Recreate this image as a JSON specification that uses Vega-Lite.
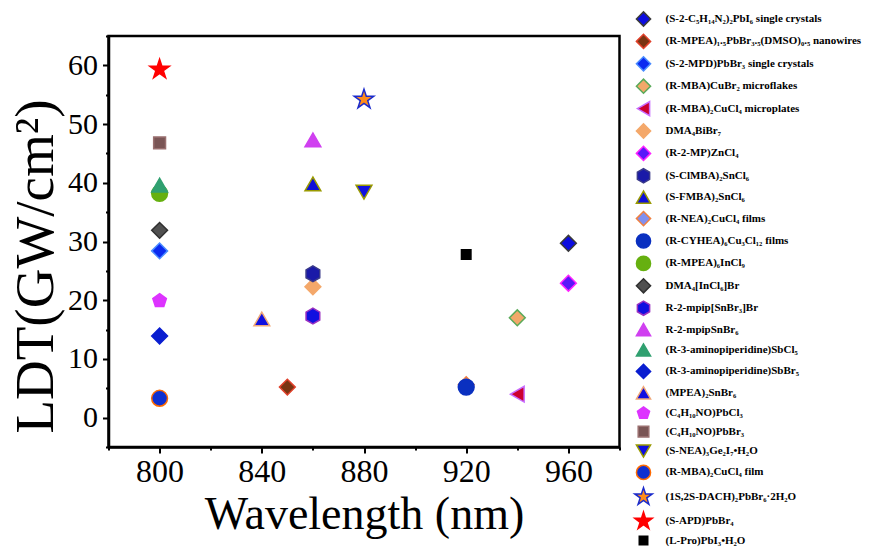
{
  "$schema": "https://vega.github.io/schema/vega-lite/v6.json",
  "width": 511,
  "height": 411,
  "autosize": {"type": "none"},
  "padding": {"left": 108.5, "top": 36, "right": 252.5, "bottom": 109},
  "background": "white",
  "config": {
    "view": {"stroke": "black", "strokeWidth": 2.5},
    "font": "Liberation Serif",
    "axis": {
      "domainColor": "black", "domainWidth": 2.5, "tickColor": "black", "tickWidth": 2,
      "grid": false, "labelFont": "Liberation Serif", "titleFont": "Liberation Serif",
      "labelColor": "black", "titleColor": "black", "titleFontWeight": "normal"
    },
    "legend": {"labelFont": "Liberation Serif", "labelFontWeight": "bold", "labelFontSize": 11, "labelColor": "black"}
  },
  "data": {
    "values": [
      {"label": "(S-2-C₅H₁₄N₂)₂PbI₆ single crystals", "wavelength": 960, "ldt": 29.7},
      {"label": "(R-MPEA)₁.₅PbBr₃.₅(DMSO)₀.₅ nanowires", "wavelength": 850, "ldt": 5.2},
      {"label": "(S-2-MPD)PbBr₃ single crystals", "wavelength": 800, "ldt": 28.4},
      {"label": "(R-MBA)CuBr₂ microflakes", "wavelength": 940, "ldt": 17.0},
      {"label": "(R-MBA)₂CuCl₄ microplates", "wavelength": 940, "ldt": 4.0},
      {"label": "DMA₄BiBr₇", "wavelength": 860, "ldt": 22.3},
      {"label": "(R-2-MP)ZnCl₄", "wavelength": 960, "ldt": 22.9},
      {"label": "(S-ClMBA)₂SnCl₆", "wavelength": 860, "ldt": 24.5},
      {"label": "(S-FMBA)₂SnCl₆", "wavelength": 860, "ldt": 39.8},
      {"label": "(R-NEA)₂CuCl₄ films", "wavelength": 920, "ldt": 5.6},
      {"label": "(R-CYHEA)₆Cu₃Cl₁₂ films", "wavelength": 920, "ldt": 5.2},
      {"label": "(R-MPEA)₆InCl₉", "wavelength": 800, "ldt": 38.2},
      {"label": "DMA₄[InCl₆]Br", "wavelength": 800, "ldt": 31.9},
      {"label": "R-2-mpip[SnBr₃]Br", "wavelength": 860, "ldt": 17.3},
      {"label": "R-2-mpipSnBr₆", "wavelength": 860, "ldt": 47.3},
      {"label": "(R-3-aminopiperidine)SbCl₅", "wavelength": 800, "ldt": 39.6},
      {"label": "(R-3-aminopiperidine)SbBr₅", "wavelength": 800, "ldt": 13.9},
      {"label": "(MPEA)₂SnBr₆", "wavelength": 840, "ldt": 16.8},
      {"label": "(C₄H₁₀NO)PbCl₃", "wavelength": 800, "ldt": 19.9},
      {"label": "(C₄H₁₀NO)PbBr₃", "wavelength": 800, "ldt": 46.8},
      {"label": "(S-NEA)₃Ge₂I₇•H₂O", "wavelength": 880, "ldt": 38.4},
      {"label": "(R-MBA)₂CuCl₄ film", "wavelength": 800, "ldt": 3.3},
      {"label": "(1S,2S-DACH)₂PbBr₆·2H₂O", "wavelength": 880, "ldt": 54.2},
      {"label": "(S-APD)PbBr₄", "wavelength": 800, "ldt": 59.3},
      {"label": "(L-Pro)PbI₃•H₂O", "wavelength": 920, "ldt": 27.8}
    ]
  },
  "mark": {"type": "point", "filled": true, "size": 250, "strokeWidth": 1.5, "opacity": 1},
  "encoding": {
    "x": {
      "field": "wavelength", "type": "quantitative",
      "scale": {"domain": [780, 980], "nice": false, "zero": false},
      "axis": {
        "title": "Wavelength (nm)", "titleFontSize": 46, "titlePadding": 5,
        "values": [780, 800, 820, 840, 860, 880, 900, 920, 940, 960, 980],
        "labelExpr": "datum.value % 40 === 0 ? datum.label : ''",
        "tickSize": {"condition": {"test": "datum.value % 40 === 0", "value": 6}, "value": 3},
        "labelFontSize": 32, "labelPadding": 3, "labelFlush": false, "labelOverlap": false
      }
    },
    "y": {
      "field": "ldt", "type": "quantitative",
      "scale": {"domain": [-5, 65], "nice": false, "zero": false},
      "axis": {
        "title": "LDT(GW/cm²)", "titleFontSize": 55, "titlePadding": 3, "titleY": 230,
        "values": [-5, 0, 5, 10, 15, 20, 25, 30, 35, 40, 45, 50, 55, 60, 65],
        "labelExpr": "datum.value % 10 === 0 ? datum.label : ''",
        "tickSize": {"condition": {"test": "datum.value % 10 === 0", "value": 6}, "value": 3},
        "labelFontSize": 30, "labelPadding": 5, "labelFlush": false, "labelOverlap": false
      }
    },
    "shape": {
      "field": "label", "type": "nominal",
      "scale": {
        "domain": ["(S-2-C₅H₁₄N₂)₂PbI₆ single crystals", "(R-MPEA)₁.₅PbBr₃.₅(DMSO)₀.₅ nanowires", "(S-2-MPD)PbBr₃ single crystals", "(R-MBA)CuBr₂ microflakes", "(R-MBA)₂CuCl₄ microplates", "DMA₄BiBr₇", "(R-2-MP)ZnCl₄", "(S-ClMBA)₂SnCl₆", "(S-FMBA)₂SnCl₆", "(R-NEA)₂CuCl₄ films", "(R-CYHEA)₆Cu₃Cl₁₂ films", "(R-MPEA)₆InCl₉", "DMA₄[InCl₆]Br", "R-2-mpip[SnBr₃]Br", "R-2-mpipSnBr₆", "(R-3-aminopiperidine)SbCl₅", "(R-3-aminopiperidine)SbBr₅", "(MPEA)₂SnBr₆", "(C₄H₁₀NO)PbCl₃", "(C₄H₁₀NO)PbBr₃", "(S-NEA)₃Ge₂I₇•H₂O", "(R-MBA)₂CuCl₄ film", "(1S,2S-DACH)₂PbBr₆·2H₂O", "(S-APD)PbBr₄", "(L-Pro)PbI₃•H₂O"],
        "range": ["diamond", "diamond", "diamond", "diamond", "triangle-left", "diamond", "diamond",
          "M0,-1L0.866,-0.5L0.866,0.5L0,1L-0.866,0.5L-0.866,-0.5Z",
          "triangle-up", "diamond", "circle", "circle", "diamond",
          "M0,-1L0.866,-0.5L0.866,0.5L0,1L-0.866,0.5L-0.866,-0.5Z",
          "triangle-up", "triangle-up", "diamond", "triangle-up",
          "M0,-0.9L0.856,-0.278L0.529,0.728L-0.529,0.728L-0.856,-0.278Z",
          "M-0.75,-0.75H0.75V0.75H-0.75Z",
          "triangle-down", "circle",
          "M0,-1.3L0.292,-0.402L1.236,-0.402L0.472,0.153L0.764,1.052L0,0.497L-0.764,1.052L-0.472,0.153L-1.236,-0.402L-0.292,-0.402Z",
          "M0,-1.3L0.292,-0.402L1.236,-0.402L0.472,0.153L0.764,1.052L0,0.497L-0.764,1.052L-0.472,0.153L-1.236,-0.402L-0.292,-0.402Z",
          "M-0.6,-0.6H0.6V0.6H-0.6Z"]
      },
      "legend": {"title": null, "orient": "none", "legendX": 527, "legendY": -25, "padding": 0, "symbolSize": 200, "symbolStrokeWidth": 1.5, "labelFont": "Liberation Serif", "labelFontSize": 11, "labelFontWeight": "bold", "labelColor": "black", "rowPadding": 0.4, "labelOffset": 14, "labelLimit": 300}
    },
    "fill": {
      "field": "label", "type": "nominal",
      "scale": {
        "domain": ["(S-2-C₅H₁₄N₂)₂PbI₆ single crystals", "(R-MPEA)₁.₅PbBr₃.₅(DMSO)₀.₅ nanowires", "(S-2-MPD)PbBr₃ single crystals", "(R-MBA)CuBr₂ microflakes", "(R-MBA)₂CuCl₄ microplates", "DMA₄BiBr₇", "(R-2-MP)ZnCl₄", "(S-ClMBA)₂SnCl₆", "(S-FMBA)₂SnCl₆", "(R-NEA)₂CuCl₄ films", "(R-CYHEA)₆Cu₃Cl₁₂ films", "(R-MPEA)₆InCl₉", "DMA₄[InCl₆]Br", "R-2-mpip[SnBr₃]Br", "R-2-mpipSnBr₆", "(R-3-aminopiperidine)SbCl₅", "(R-3-aminopiperidine)SbBr₅", "(MPEA)₂SnBr₆", "(C₄H₁₀NO)PbCl₃", "(C₄H₁₀NO)PbBr₃", "(S-NEA)₃Ge₂I₇•H₂O", "(R-MBA)₂CuCl₄ film", "(1S,2S-DACH)₂PbBr₆·2H₂O", "(S-APD)PbBr₄", "(L-Pro)PbI₃•H₂O"],
        "range": ["#0d0de0", "#7a3412", "#0a2af0", "#f2a86a", "#cc0030", "#f4a86a", "#5a18f8", "#1a1aa8", "#1010d8", "#8090f0", "#0a30c0", "#66b010", "#505050", "#1010e0", "#d040f0", "#30a070", "#0a1ed0", "#1010e0", "#dd33ff", "#7a5555", "#1010e0", "#1030d0", "#ff8c1a", "#ff0000", "#000000"]
      },
      "legend": {"title": null, "orient": "none", "legendX": 527, "legendY": -25, "padding": 0, "symbolSize": 200, "symbolStrokeWidth": 1.5, "labelFont": "Liberation Serif", "labelFontSize": 11, "labelFontWeight": "bold", "labelColor": "black", "rowPadding": 0.4, "labelOffset": 14, "labelLimit": 300}
    },
    "stroke": {
      "field": "label", "type": "nominal",
      "scale": {
        "domain": ["(S-2-C₅H₁₄N₂)₂PbI₆ single crystals", "(R-MPEA)₁.₅PbBr₃.₅(DMSO)₀.₅ nanowires", "(S-2-MPD)PbBr₃ single crystals", "(R-MBA)CuBr₂ microflakes", "(R-MBA)₂CuCl₄ microplates", "DMA₄BiBr₇", "(R-2-MP)ZnCl₄", "(S-ClMBA)₂SnCl₆", "(S-FMBA)₂SnCl₆", "(R-NEA)₂CuCl₄ films", "(R-CYHEA)₆Cu₃Cl₁₂ films", "(R-MPEA)₆InCl₉", "DMA₄[InCl₆]Br", "R-2-mpip[SnBr₃]Br", "R-2-mpipSnBr₆", "(R-3-aminopiperidine)SbCl₅", "(R-3-aminopiperidine)SbBr₅", "(MPEA)₂SnBr₆", "(C₄H₁₀NO)PbCl₃", "(C₄H₁₀NO)PbBr₃", "(S-NEA)₃Ge₂I₇•H₂O", "(R-MBA)₂CuCl₄ film", "(1S,2S-DACH)₂PbBr₆·2H₂O", "(S-APD)PbBr₄", "(L-Pro)PbI₃•H₂O"],
        "range": ["#3a3a3a", "#e0402a", "#4a8cff", "#5aaa5a", "#c86cff", "#f4a86a", "#ff22ff", "#3a3a8a", "#9a9a00", "#f08040", "#0a30c0", "#66b010", "#303030", "#9a30c0", "#d040f0", "#30a070", "#0a1ed0", "#f0a878", "#dd33ff", "#9a7070", "#9a9a00", "#ff6a00", "#1a2acc", "#ff0000", "#000000"]
      },
      "legend": {"title": null, "orient": "none", "legendX": 527, "legendY": -25, "padding": 0, "symbolSize": 200, "symbolStrokeWidth": 1.5, "labelFont": "Liberation Serif", "labelFontSize": 11, "labelFontWeight": "bold", "labelColor": "black", "rowPadding": 0.4, "labelOffset": 14, "labelLimit": 300}
    }
  }
}
